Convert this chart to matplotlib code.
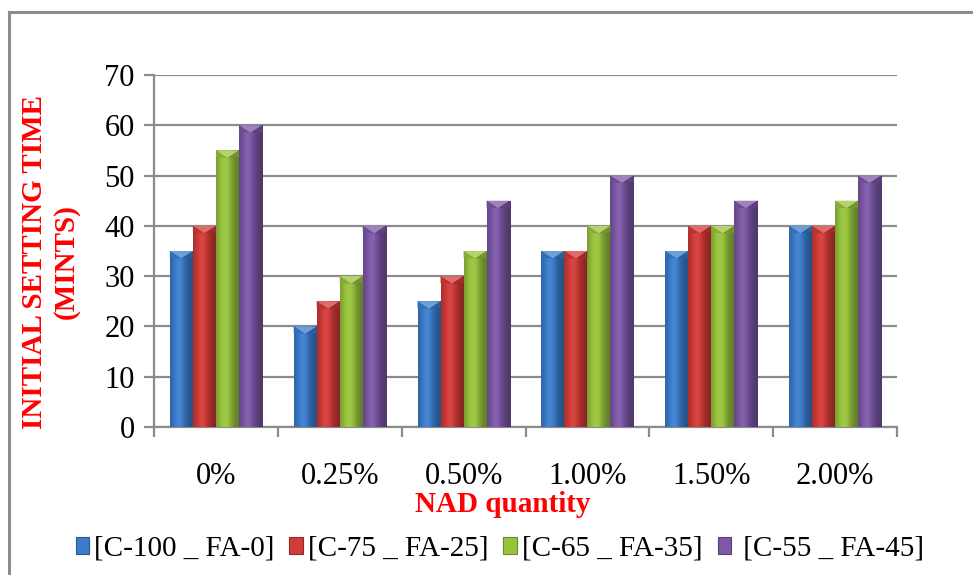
import matplotlib
matplotlib.use("Agg")
import matplotlib.pyplot as plt
import numpy as np
from matplotlib.patches import Rectangle, Polygon
from matplotlib.colors import to_rgb

categories = ["0%", "0.25%", "0.50%", "1.00%", "1.50%", "2.00%"]
series_names = ["[C-100 _ FA-0]", "[C-75 _ FA-25]", "[C-65 _ FA-35]", " [C-55 _ FA-45]"]
s1 = [35, 20, 25, 35, 35, 40]
s2 = [40, 25, 30, 35, 40, 40]
s3 = [55, 30, 35, 40, 40, 45]
s4 = [60, 40, 45, 50, 45, 50]
series = [s1, s2, s3, s4]
colors = ["#3b7dcc", "#d23b38", "#98c43c", "#7c58a6"]
yticks = [0, 10, 20, 30, 40, 50, 60, 70]

plt.rcParams['font.family'] = ['Liberation Serif', 'DejaVu Serif']

W, H = 973, 575
fig = plt.figure(figsize=(W / 100, H / 100), dpi=100)
ax = fig.add_axes([154 / W, 1 - 427 / H, (897 - 154) / W, (427 - 75) / H])

# figure border
fig.add_artist(plt.Line2D([9 / W, 9 / W], [0, 1 - 12 / H], color="#8c8c8c", lw=2.2, transform=fig.transFigure))
fig.add_artist(plt.Line2D([9 / W, 1], [1 - 12 / H, 1 - 12 / H], color="#8c8c8c", lw=2.2, transform=fig.transFigure))

n = len(series)
bw = 0.186
x = np.arange(len(categories))


def shade(c, f):
    r = np.array(to_rgb(c))
    if f >= 1:
        return tuple(r + (1 - r) * (f - 1))
    return tuple(r * f)


def draw_bar(xc, h, color):
    x0 = xc - bw / 2
    x1 = xc + bw / 2
    rect = ax.bar(xc, h, bw, color=color, zorder=3, linewidth=0)[0]
    t = np.linspace(0, 1, 64)
    prof = 0.74 + 0.36 * np.exp(-((t - 0.38) / 0.3) ** 2) - 0.1 * t
    cols = np.array([shade(color, p) for p in prof])
    img = ax.imshow(cols[np.newaxis, :, :], extent=(x0, x1, 0, h), aspect='auto',
                    zorder=3.1, interpolation='bilinear')
    img.set_clip_path(rect)
    # top bevel
    th = 1.5
    tri = Polygon([(x0, h), (x1, h), (xc, h - th)], closed=True,
                  facecolor=shade(color, 1.25), edgecolor='none', zorder=3.2)
    ax.add_patch(tri)
    side_l = Polygon([(x0, h), (xc, h - th), (x0, h - th * 0.9)], closed=True,
                     facecolor=shade(color, 0.88), edgecolor='none', zorder=3.2)
    ax.add_patch(side_l)
    side_r = Polygon([(x1, h), (xc, h - th), (x1, h - th * 0.9)], closed=True,
                     facecolor=shade(color, 0.75), edgecolor='none', zorder=3.2)
    ax.add_patch(side_r)


for i, (vals, c) in enumerate(zip(series, colors)):
    for j, v in enumerate(vals):
        xc = x[j] + (i - (n - 1) / 2) * bw
        draw_bar(xc, v, c)

ax.set_xlim(-0.5, len(categories) - 0.5)
ax.set_ylim(0, 70)
ax.set_yticks(yticks)
ax.yaxis.grid(True, color="#8c8c8c", lw=1.6, zorder=0)
ax.set_axisbelow(True)
for s in ["top", "right"]:
    ax.spines[s].set_visible(False)
for s in ["left", "bottom"]:
    ax.spines[s].set_color("#8c8c8c")
    ax.spines[s].set_linewidth(1.6)

ax.set_xticks(x)
ax.set_xticklabels(categories)
ax.set_xticks(np.arange(len(categories) + 1) - 0.5, minor=True)
ax.tick_params(axis='x', which='major', length=0, pad=25, labelsize=22)
ax.tick_params(axis='x', which='minor', length=7, width=1.6, color="#8c8c8c")
ax.tick_params(axis='y', length=7, width=1.6, color="#8c8c8c", labelsize=22, pad=7)

fig.text(503 / W, 1 - 505 / H, "NAD quantity", color="red", fontsize=21, fontweight="bold",
         ha="center", va="center")
fig.text(50 / W, 1 - 262 / H, "INITIAL SETTING TIME\n(MINTS)", rotation=90, color="red",
         fontsize=21, fontweight="bold", ha="center", va="center", linespacing=1.2)

handles = [Rectangle((0, 0), 1, 1, facecolor=c, edgecolor=shade(c, 0.7), lw=0.8) for c in colors]
leg = fig.legend(handles, series_names, loc="center", bbox_to_anchor=(500 / W, 1 - 549 / H),
                 ncol=4, frameon=False, fontsize=21, handlelength=0.45, handleheight=0.55,
                 handletextpad=0.2, columnspacing=0.5)

fig.savefig("out.png", dpi=100)
